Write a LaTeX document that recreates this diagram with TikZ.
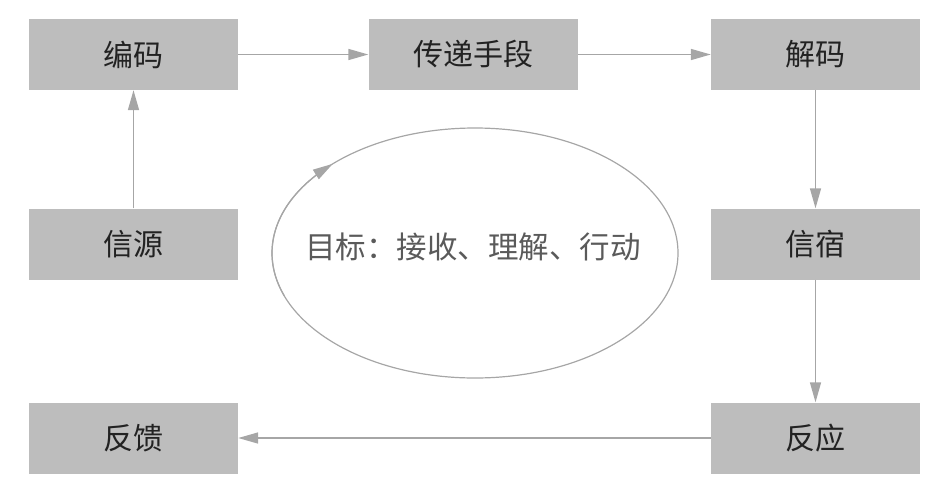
\documentclass[tikz,border=0pt]{standalone}
\usepackage{fontspec}
\newfontfamily\cjk{Noto Sans CJK SC}
\usetikzlibrary{arrows.meta}
\definecolor{boxgray}{HTML}{BDBDBD}
\definecolor{linegray}{HTML}{A6A6A6}
\definecolor{txtdark}{HTML}{222222}
\definecolor{txtgray}{HTML}{5A5A5A}
\tikzset{
  stagebox/.style={fill=boxgray, draw=none, minimum width=209pt, minimum height=71pt, inner sep=0pt,
    font=\cjk\fontsize{30}{35}\selectfont, text=txtdark},
  flow/.style={draw=linegray, line width=1.5pt, -{Triangle[length=20pt,width=11pt]}},
}
\begin{document}
\begin{tikzpicture}[x=1pt,y=-1pt]
\useasboundingbox (0,0) rectangle (936,482);
\node[stagebox] (enc) at (133.5,54.5) {编码};
\node[stagebox] (chan) at (473,54.5) {传递手段};
\node[stagebox] (dec) at (815.5,54.5) {解码};
\node[stagebox] (src) at (133.5,244) {信源};
\node[stagebox] (dst) at (815.5,244) {信宿};
\node[stagebox] (fb) at (133.5,438) {反馈};
\node[stagebox] (resp) at (815.5,438) {反应};
\draw[flow] (enc) -- (chan);
\draw[flow] (chan) -- (dec);
\draw[flow] (dec) -- (dst);
\draw[flow] (dst) -- (resp);
\draw[flow] (resp) -- (fb);
\draw[flow] (src) -- (enc);
\draw[draw=linegray, line width=1.2pt] (475,253) ellipse [x radius=203pt, y radius=125pt];
\draw[draw=linegray, line width=1.2pt, {Triangle[length=20pt,width=11pt]}-]
  plot[domain=134.5:200, samples=30] ({475+203*cos(\x)},{253-125*sin(\x)});
\node[font=\cjk\fontsize{30.5}{36}\selectfont, text=txtgray] (goal) at (473,247) {目标：接收、理解、行动};
\end{tikzpicture}
\end{document}
